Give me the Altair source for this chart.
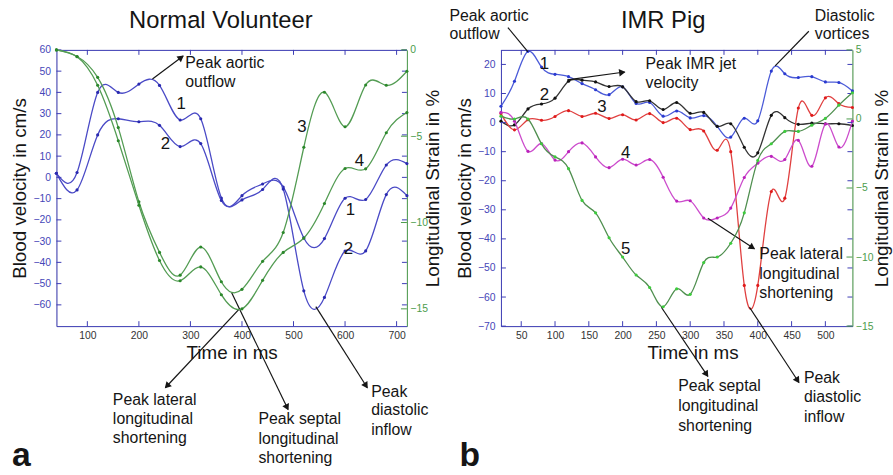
import math
import altair as alt
import pandas as pd

FONT = "Liberation Sans"

# ---------------- data: panel a (Normal Volunteer) ----------------
A_TIME = [40, 80, 120, 160, 200, 240, 280, 320, 360, 400, 440, 480, 520, 560, 600, 640, 680, 720]
A_VEL1 = [1.9, 2.3, 40.0, 40.0, 43.9, 43.3, 27.0, 27.6, -9.7, -8.6, -3.1, -4.5, -28.5, -28.8, -9.8, -10.4, 5.8, 6.5]
A_VEL2 = [1.9, -5.9, 20.0, 27.6, 26.2, 24.5, 14.5, 15.9, -10.9, -10.6, -5.7, -5.5, -53.4, -56.5, -34.7, -34.6, -8.1, -8.6]
A_STR3 = [0.0, -0.38, -1.59, -4.5, -8.8, -11.73, -13.05, -11.42, -13.43, -13.87, -12.25, -10.58, -5.64, -2.45, -4.45, -2.03, -2.05, -1.24]
A_STR4 = [0.0, -0.4, -2.05, -5.26, -9.0, -12.2, -13.37, -12.57, -14.18, -15.0, -13.35, -11.73, -10.9, -8.9, -6.87, -6.89, -4.8, -3.63]
A_XTICKS = [100, 200, 300, 400, 500, 600, 700]
A_VTICKS = [60, 50, 40, 30, 20, 10, 0, -10, -20, -30, -40, -50, -60]
A_STICKS = [0, -5, -10, -15]

# ---------------- data: panel b (IMR Pig) ----------------
B_TIME = [20, 40, 60, 80, 100, 120, 140, 160, 180, 200, 220, 240, 260, 280, 300, 320, 340, 360, 380, 400, 420, 440, 460, 480, 500, 520, 540]
B_VEL1 = [5.6, 14.2, 24.5, 19.1, 16.6, 15.8, 13.4, 11.3, 9.6, 12.3, 6.6, 6.9, 2.2, 4.0, 1.6, 2.4, -1.3, -5.0, 1.5, 0.6, 17.7, 16.8, 15.5, 15.8, 14.0, 13.8, 10.9]
B_VEL2 = [0.5, -0.8, 4.7, 6.4, 8.4, 14.2, 14.6, 14.0, 12.4, 12.3, 7.2, 7.5, 4.5, 6.9, 3.2, 3.5, -1.3, -0.4, -8.5, -10.4, 2.5, 1.7, -0.6, -0.2, -0.4, -0.4, -1.0]
B_VEL3 = [3.1, -2.5, 1.0, 0.8, 2.1, 4.1, 2.1, 3.2, 1.4, 2.7, 0.9, 3.1, 0.0, 1.5, -2.4, -2.9, -9.5, -10.0, -56.0, -56.0, -23.7, -26.0, 5.0, 2.5, 8.5, 6.5, 5.2]
B_VEL4 = [3.5, 0.5, -9.9, -7.2, -12.9, -10.0, -7.0, -11.8, -15.5, -12.6, -14.6, -12.7, -18.8, -27.0, -26.9, -32.8, -32.8, -29.4, -18.9, -14.0, -11.6, -12.7, -6.1, -15.0, -0.5, -8.4, 0.5]
B_STR5 = [0.2, 0.0, 0.0, -1.8, -2.75, -3.6, -5.9, -6.8, -8.6, -10.0, -11.3, -12.2, -13.6, -12.3, -12.7, -10.4, -10.0, -9.0, -6.8, -3.0, -1.8, -0.9, -0.9, -0.45, 0.04, 1.0, 1.9]
B_XTICKS = [50, 100, 150, 200, 250, 300, 350, 400, 450, 500]
B_VTICKS = [20, 10, 0, -10, -20, -30, -40, -50, -60, -70]
B_STICKS = [5, 0, -5, -10, -15]

# ---------------- annotations (data coordinates) ----------------
A_TEXT = [("Peak aortic", 290, 53.8), ("outflow", 290, 44.9),
          ("Peak lateral", 149.5, -104.6), ("longitudinal", 149.5, -113.9), ("shortening", 149.5, -122.8),
          ("Peak septal", 431.9, -113.9), ("longitudinal", 431.9, -123.2), ("shortening", 431.9, -132.0),
          ("Peak", 650.8, -100.9), ("diastolic", 650.8, -109.7), ("inflow", 650.8, -119.0)]
A_CURVE_LABELS = [("1", 282, 34.7), ("2", 251.3, 15.6), ("3", 516.4, 23.5), ("4", 627.8, 7.7),
                  ("1", 610.5, -15.2), ("2", 606.6, -33.8)]
A_ARROWS = [(226.3, 46.3, 285.9, 57.1), (395.4, -61.8, 251.3, -99.0),
            (380.0, -54.3, 489.5, -109.3), (543.3, -60.8, 643.2, -99.0)]
A_LINES = []
A_TITLE = ("Normal Volunteer", 359, 73.4)
A_LETTER = ("a", -46.4, -135.9)

B_TEXT = [("Peak aortic", -56.2, 36.8), ("outflow", -56.2, 30.3),
          ("Peak IMR jet", 233.9, 20.1), ("velocity", 233.9, 13.7),
          ("Diastolic", 484.3, 36.8), ("vortices", 484.3, 30.3),
          ("Peak lateral", 402.3, -45.2), ("longitudinal", 402.3, -52.0), ("shortening", 402.3, -58.8),
          ("Peak septal", 282.2, -90.7), ("longitudinal", 282.2, -97.5), ("shortening", 282.2, -104.3),
          ("Peak", 468.2, -88.0), ("diastolic", 468.2, -94.5), ("inflow", 468.2, -101.3)]
B_CURVE_LABELS = [("1", 84.4, 20.1), ("2", 84.4, 9.6), ("3", 169.4, 5.5), ("4", 204.6, -10.5), ("5", 204.6, -43.5)]
B_ARROWS = [(118.1, 14.7, 203.1, 17.4), (326.1, -32.9, 395.0, -43.4),
            (257.3, -63.5, 326.1, -87.3), (387.7, -63.5, 460.9, -89.4)]
B_LINES = [(60.0, 24.3, 30.3, 32.7), (425.7, 19.5, 475.5, 31.4)]
B_TITLE = ("IMR Pig", 260, 34.8)
B_LETTER = ("b", -41.5, -118.0)

# ---------------- styles ----------------
AX_BLUE = "#3d3db5"
AX_GREEN = "#4a9a4a"
LBL_BLUE = "#4646b8"
LBL_GREEN = "#4c9c4c"
TXT = "#151515"


def panel(time, vel, strain, xdom, vdom, sdom, xt, vt, st, W, H,
          texts, labels, arrows, lines, title, letter, x_title_x, tp_right):
    xs = alt.Scale(domain=xdom, nice=False, zero=False)
    vs = alt.Scale(domain=vdom, nice=False, zero=False)
    ss = alt.Scale(domain=sdom, nice=False, zero=False)
    kx = W / (xdom[1] - xdom[0])
    ky = H / (vdom[1] - vdom[0])

    xaxis = alt.Axis(
        orient="bottom", values=xt, title="Time in ms", titleFont=FONT, titleFontSize=19,
        titleFontWeight="normal", titleColor=TXT, titlePadding=2, titleX=x_title_x,
        labelFont=FONT, labelFontSize=10.5, labelColor="#333333", labelPadding=5,
        labelFlush=False, labelOverlap=False, ticks=False, domain=True,
        domainColor=AX_BLUE, grid=False)
    vaxis = alt.Axis(
        orient="left", values=vt, title="Blood velocity in cm/s", titleFont=FONT,
        titleFontSize=19, titleFontWeight="normal", titleColor=TXT, titlePadding=3,
        labelFont=FONT, labelFontSize=10.5, labelColor=LBL_BLUE, labelPadding=6,
        labelFlush=False, labelOverlap=False, ticks=False, domain=True,
        domainColor=AX_BLUE, grid=False)
    saxis = alt.Axis(
        orient="right", values=st, title="Longitudinal Strain in %", titleFont=FONT,
        titleFontSize=19, titleFontWeight="normal", titleColor=TXT, titleAngle=270,
        titleBaseline="top", titlePadding=tp_right,
        labelFont=FONT, labelFontSize=10.5, labelColor=LBL_GREEN, labelPadding=3,
        labelFlush=False, labelOverlap=False, ticks=False, domain=True,
        domainColor=AX_GREEN, grid=False)

    def X(f="t"):
        return alt.X(f + ":Q", scale=xs, axis=xaxis)

    def V(f="v"):
        return alt.Y(f + ":Q", scale=vs, axis=vaxis)

    def S(f="s"):
        return alt.Y(f + ":Q", scale=ss, axis=saxis)

    vel_layers = []
    for vals, lc, dc in vel:
        df = pd.DataFrame({"t": time, "v": vals})
        vel_layers.append(alt.Chart(df).mark_line(interpolate="natural", color=lc, strokeWidth=1.3)
                          .encode(x=X(), y=V()))
        vel_layers.append(alt.Chart(df).mark_circle(color=dc, size=10, opacity=1)
                          .encode(x=X(), y=V()))

    xt_df = pd.DataFrame({"t": xt})
    vt_df = pd.DataFrame({"v": vt})
    one = pd.DataFrame({"d": [0]})
    vel_layers += [
        alt.Chart(xt_df).mark_rule(color=AX_BLUE).encode(x=X(), y=alt.value(H), y2=alt.value(H - 5)),
        alt.Chart(xt_df).mark_rule(color=AX_BLUE).encode(x=X(), y=alt.value(0), y2=alt.value(5)),
        alt.Chart(vt_df).mark_rule(color=AX_BLUE).encode(y=V(), x=alt.value(0), x2=alt.value(5)),
        alt.Chart(vt_df).mark_rule(color=AX_BLUE).encode(y=V(), x=alt.value(W - 5), x2=alt.value(W)),
        alt.Chart(one).mark_rule(color=AX_BLUE).encode(x=alt.value(0), x2=alt.value(W), y=alt.value(0.5)),
    ]

    tdf = pd.DataFrame(texts, columns=["text", "t", "v"])
    vel_layers.append(alt.Chart(tdf).mark_text(align="left", baseline="middle", font=FONT,
                                               fontSize=16, color=TXT)
                      .encode(x=X(), y=V(), text="text:N"))
    ldf = pd.DataFrame(labels, columns=["text", "t", "v"])
    vel_layers.append(alt.Chart(ldf).mark_text(align="center", baseline="middle", font=FONT,
                                               fontSize=17, color=TXT)
                      .encode(x=X(), y=V(), text="text:N"))
    ttl = pd.DataFrame([title], columns=["text", "t", "v"])
    vel_layers.append(alt.Chart(ttl).mark_text(align="center", baseline="middle", font=FONT,
                                               fontSize=24, color=TXT)
                      .encode(x=X(), y=V(), text="text:N"))
    let = pd.DataFrame([letter], columns=["text", "t", "v"])
    vel_layers.append(alt.Chart(let).mark_text(align="left", baseline="alphabetic", font=FONT,
                                               fontSize=34, fontWeight="bold", color=TXT)
                      .encode(x=X(), y=V(), text="text:N"))

    segs = list(arrows) + list(lines)
    if segs:
        sdf = pd.DataFrame(segs, columns=["t1", "v1", "t2", "v2"])
        vel_layers.append(alt.Chart(sdf).mark_rule(color=TXT, strokeWidth=1.2)
                          .encode(x=X("t1"), y=V("v1"), x2="t2:Q", y2="v2:Q"))
    heads = []
    for t1, v1, t2, v2 in arrows:
        dx = (t2 - t1) * kx
        dy = -(v2 - v1) * ky
        L = math.hypot(dx, dy)
        ux, uy = dx / L, dy / L
        ang = math.degrees(math.atan2(dx, -dy)) % 360
        heads.append({"t": t2 - 3.5 * ux / kx, "v": v2 + 3.5 * uy / ky, "ang": ang})
    if heads:
        hdf = pd.DataFrame(heads)
        vel_layers.append(alt.Chart(hdf).mark_point(shape="triangle", filled=True, size=55,
                                                    color=TXT, opacity=1)
                          .encode(x=X(), y=V(), angle=alt.Angle("ang:Q", scale=None)))

    str_layers = []
    for vals, lc, dc in strain:
        df = pd.DataFrame({"t": time, "s": vals})
        str_layers.append(alt.Chart(df).mark_line(interpolate="natural", color=lc, strokeWidth=1.3)
                          .encode(x=X(), y=S()))
        str_layers.append(alt.Chart(df).mark_circle(color=dc, size=10, opacity=1)
                          .encode(x=X(), y=S()))
    st_df = pd.DataFrame({"s": st})
    str_layers.append(alt.Chart(st_df).mark_rule(color=AX_GREEN)
                      .encode(y=S(), x=alt.value(W - 6), x2=alt.value(W)))

    return (alt.layer(alt.layer(*vel_layers), alt.layer(*str_layers))
            .resolve_scale(y="independent")
            .properties(width=W, height=H))


pa = panel(A_TIME,
           [(A_VEL1, "#4a4ac6", "#2a2ab0"), (A_VEL2, "#4a4ac6", "#2a2ab0")],
           [(A_STR3, "#539c53", "#2b882b"), (A_STR4, "#539c53", "#2b882b")],
           [40, 720], [-70, 60], [-16, 0], A_XTICKS, A_VTICKS, A_STICKS, 354, 279,
           A_TEXT, A_CURVE_LABELS, A_ARROWS, A_LINES, A_TITLE, A_LETTER, 177, -4)

pb = panel(B_TIME,
           [(B_VEL1, "#4b5bd8", "#2a3ad0"), (B_VEL2, "#333333", "#111111"),
            (B_VEL3, "#e04040", "#e01a1a"), (B_VEL4, "#cc4ccc", "#bb22bb")],
           [(B_STR5, "#4f8f4f", "#3ccc3c")],
           [20, 540], [-70, 25], [-15, 5], B_XTICKS, B_VTICKS, B_STICKS, 355, 279,
           B_TEXT, B_CURVE_LABELS, B_ARROWS, B_LINES, B_TITLE, B_LETTER, 193.5, 0)

chart = (alt.hconcat(pa, pb, spacing=95, bounds="flush")
         .properties(padding={"left": 10, "top": 4, "right": 0, "bottom": 0})
         .configure_view(stroke=None)
         .configure(background="white"))

chart.save("out.html", embed_options={"renderer": "svg", "actions": False})
